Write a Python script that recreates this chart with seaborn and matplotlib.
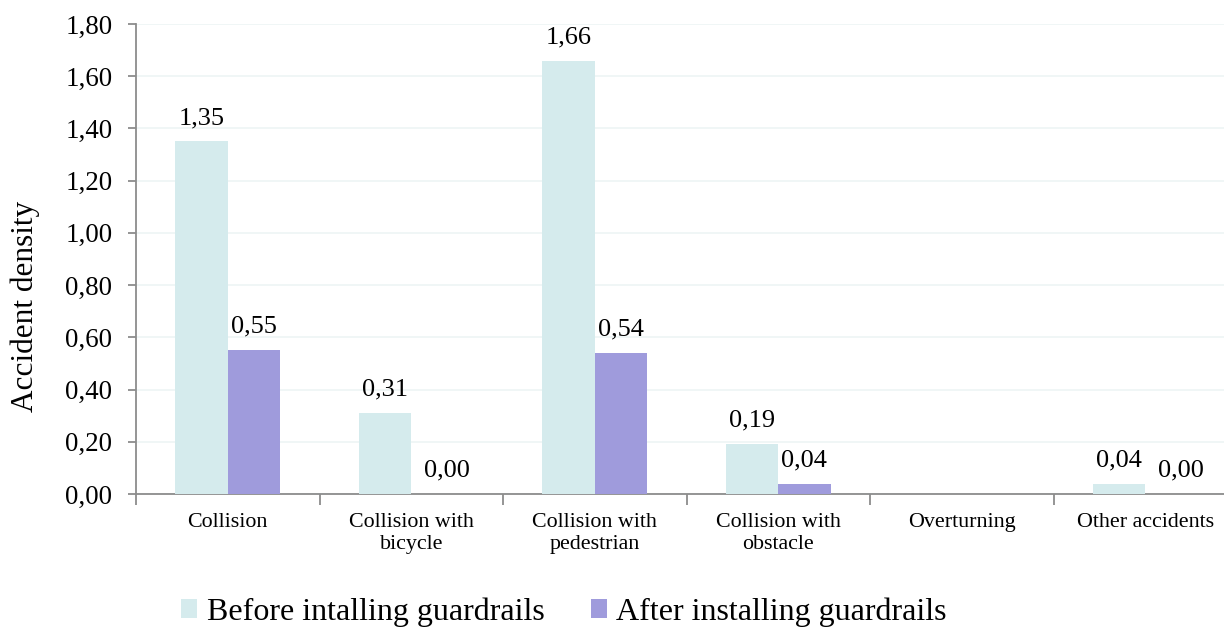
import numpy as np
import pandas as pd
import matplotlib
matplotlib.use("Agg")
import matplotlib.pyplot as plt
import seaborn as sns
from matplotlib.ticker import FixedLocator
from matplotlib.patches import Patch, Rectangle

categories = ["Collision", "Collision with\nbicycle", "Collision with\npedestrian",
              "Collision with\nobstacle", "Overturning", "Other accidents"]
before_vals = [1.35, 0.31, 1.66, 0.19, np.nan, 0.04]
after_vals = [0.55, 0.00, 0.54, 0.04, np.nan, 0.00]
series_names = ["Before intalling guardrails", "After installing guardrails"]
y_ticks = [0.0, 0.2, 0.4, 0.6, 0.8, 1.0, 1.2, 1.4, 1.6, 1.8]

df = pd.DataFrame({
    "category": categories * 2,
    "series": [series_names[0]] * len(categories) + [series_names[1]] * len(categories),
    "value": before_vals + after_vals,
})

sns.set_theme(style="white")
plt.rcParams["font.family"] = ["Liberation Serif", "DejaVu Serif"]
plt.rcParams["text.color"] = "black"
plt.rcParams["axes.labelcolor"] = "black"
plt.rcParams["xtick.labelcolor"] = "black"
plt.rcParams["ytick.labelcolor"] = "black"

fig = plt.figure(figsize=(12.24, 6.3), dpi=100)
ax = fig.add_axes([136 / 1224, 1 - 494 / 630, 1101 / 1224, 470 / 630])

colors = ["#D5EBED", "#9F9BDC"]
sns.barplot(data=df, x="category", y="value", hue="series", order=categories,
            hue_order=series_names, palette=colors, width=0.57, ax=ax,
            errorbar=None, saturation=1, legend=False, zorder=3, linewidth=0)

ax.set_xlim(-0.5, 5.5)
ax.set_ylim(0, 1.8)
ax.set_yticks(y_ticks)
ax.set_yticklabels([f"{v:.2f}".replace(".", ",") for v in y_ticks], fontsize=19.4, color="black")
ax.yaxis.grid(True, color="#EEF5F5", linewidth=1.2, zorder=0)
ax.set_axisbelow(True)

# value labels
for p in list(ax.patches):
    if not isinstance(p, Rectangle):
        continue
    h = p.get_height()
    if h is None or np.isnan(h):
        continue
    dx = 7 if h == 0 else 0
    ax.annotate(f"{h:.2f}".replace(".", ","), (p.get_x() + p.get_width() / 2, h),
                xytext=(dx, 9), textcoords="offset points", ha="center", va="bottom",
                fontsize=19, color="black")

ax.set_xticks(range(len(categories)))
ax.set_xticklabels(categories, fontsize=15.8, linespacing=1.2, color="black")
ax.xaxis.set_minor_locator(FixedLocator(np.arange(-0.5, len(categories) + 0.5, 1)))
ax.tick_params(axis="x", which="major", length=0, pad=14)
ax.tick_params(axis="x", which="minor", length=8, width=1.3, color="#8C8C8C", bottom=True)
ax.tick_params(axis="y", length=6, width=1.3, color="#8C8C8C", left=True, pad=11)

for s in ["top", "right"]:
    ax.spines[s].set_visible(False)
for s in ["left", "bottom"]:
    ax.spines[s].set_color("#8C8C8C")
    ax.spines[s].set_linewidth(1.3)

ax.set_xlabel("")
ax.set_ylabel("Accident density", fontsize=22.5, va="center", color="black")
ax.yaxis.set_label_coords((25 - 136) / 1101, (494 - 306) / 470)

handles = [Patch(facecolor=c, edgecolor="none") for c in colors]
fig.legend(handles, series_names, loc="center left", bbox_to_anchor=(181 / 1224, 18 / 630),
           ncol=2, frameon=False, fontsize=23, handlelength=0.5, handleheight=0.5,
           handletextpad=0.3, columnspacing=1.45, borderaxespad=0, borderpad=0)

fig.savefig("out.png", dpi=100)
